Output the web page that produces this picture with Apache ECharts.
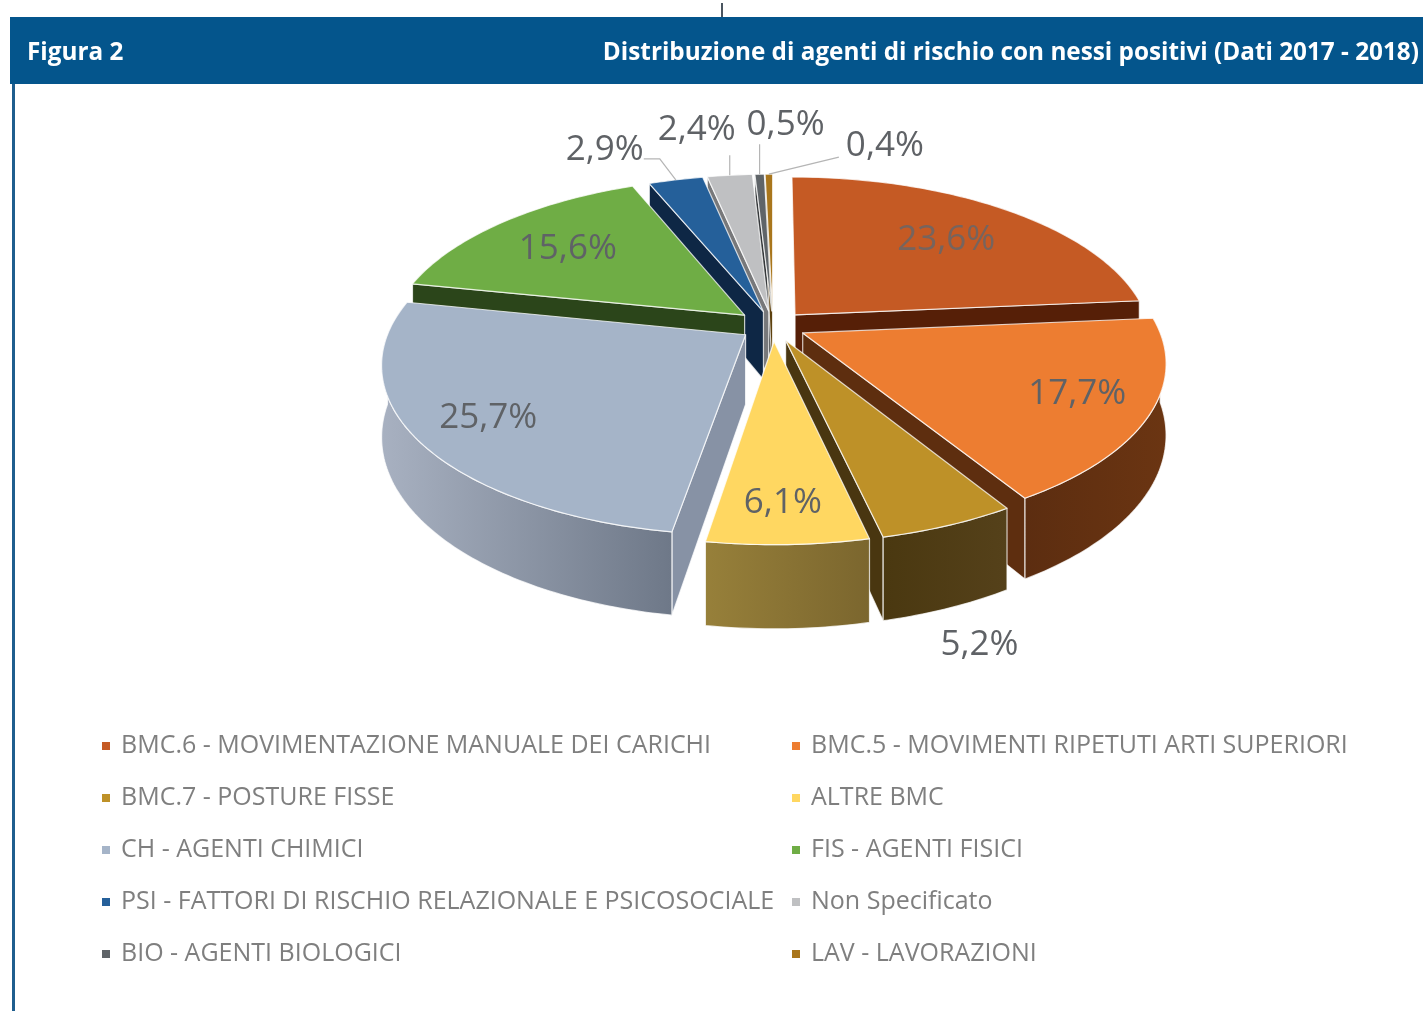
<!DOCTYPE html>
<html>
<head>
<meta charset="utf-8">
<style>html,body{margin:0;padding:0;background:#fff}#chart{width:1423px;height:1011px}</style>
<script src="https://cdn.jsdelivr.net/npm/echarts@6/dist/echarts.min.js"></script>
</head>
<body>
<div id="chart"></div>
<script>
// Agent categories and their share (%) of positive cases
const categories = [
  'BMC.6 - MOVIMENTAZIONE MANUALE DEI CARICHI',
  'BMC.5 - MOVIMENTI RIPETUTI ARTI SUPERIORI',
  'BMC.7 - POSTURE FISSE',
  'ALTRE BMC',
  'CH - AGENTI CHIMICI',
  'FIS - AGENTI FISICI',
  'PSI - FATTORI DI RISCHIO RELAZIONALE E PSICOSOCIALE',
  'Non Specificato',
  'BIO - AGENTI BIOLOGICI',
  'LAV - LAVORAZIONI'
];
const shares = [23.6, 17.7, 5.2, 6.1, 25.7, 15.6, 2.9, 2.4, 0.5, 0.4];
const shareLabels = ['23,6%', '17,7%', '5,2%', '6,1%', '25,7%', '15,6%', '2,9%', '2,4%', '0,5%', '0,4%'];
const figureTitle = 'Figura 2';
const chartTitle = 'Distribuzione di agenti di rischio con nessi positivi (Dati 2017 - 2018)';

// Face colours per slice
const topColors = ['#C55A24', '#ED7D31', '#BE9128', '#FFD761', '#A5B4C8', '#6FAD45', '#25609A', '#BFC0C2', '#5F6468', '#A9761C'];
const cutColors = ['#561F07', '#5E2E0F', '#493610', '#7D672B', '#8792A5', '#2B451A', '#0E2745', '#77787A', '#35383A', '#5C400E'];
const wallColors = [
  ['#561F07', '#561F07'], ['#5C2D10', '#6B3512'], ['#4A3810', '#55411A'], ['#97803A', '#7B662E'],
  ['#A8B1C1', '#6E7888'], ['#2B451A', '#2B451A'], ['#0E2745', '#0E2745'], ['#77787A', '#77787A'],
  ['#35383A', '#35383A'], ['#5C400E', '#5C400E']
];
const legendLeft = [0, 2, 4, 6, 8];
const legendRight = [1, 3, 5, 7, 9];

// Projection of the tilted disc onto the screen, with mild perspective
const view = { cx: 773, cy: 326, rx: 355, ry: 164, persp: 0.165, depth: 69 };
const explodes = [0.093, 0.093, 0.093, 0.093, 0.093, 0.105, 0.093, 0.093, 0.093, 0.093];
const total = shares.reduce((a, b) => a + b, 0);
const DEG = Math.PI / 180;

function project(u, v, lift) {
  const s = 1 / (1 - view.persp * v);
  return [view.cx + view.rx * u * s, view.cy + view.ry * v * s + (lift || 0) * s];
}
function sliceAngles(i) {
  let before = 0;
  for (let k = 0; k < i; k++) before += shares[k];
  const a0 = before / total * 360;
  const a1 = (before + shares[i]) / total * 360;
  return [a0, a1, (a0 + a1) / 2];
}
function dir(a) { return [Math.sin(a * DEG), -Math.cos(a * DEG)]; }

// Label placement: inside labels sit on a radius, outer ones off the rim with a leader
const labelSpots = [
  { k: 0.69, dx: 2, dy: 1 }, { k: 0.80, dx: 1, dy: -2 }, { k: 1, dx: 31, dy: 120 }, { k: 0.81, dx: -2, dy: 3 }, { k: 0.80, dy: 1 }, { k: 0.71, dy: 2 },
  { k: 1, dx: -71, dy: -30, leader: [[-16, -21], [-32, -21]] },
  { k: 1, dx: -33, dy: -45, leader: [[0, -20]] },
  { k: 1, dx: 26, dy: -49, leader: [[0, -30]] },
  { k: 1, dx: 116, dy: -28, leader: [[70, -17]] }
];

function renderSlice(i, api) {
  const [a0, a1, mid] = sliceAngles(i);
  const m = dir(mid);
  const ex = explodes[i];
  const ox = m[0] * ex, oy = m[1] * ex;
  const pt = (a, r, lift) => { const d = dir(a); return project(d[0] * r + ox, d[1] * r + oy, lift); };
  const order = Math.round((m[1] + 1.2) * 100) * 10;
  const kids = [];
  const apex = pt(0, 0), apexLow = pt(0, 0, view.depth);
  const edge = { stroke: 'rgba(255,255,255,0.75)', lineWidth: 1.2, lineJoin: 'round' };

  // Cut faces turned towards the viewer
  if (Math.sin(a0 * DEG) < 0) {
    kids.push({ type: 'polygon', z2: order, shape: { points: [apex, pt(a0, 1), pt(a0, 1, view.depth), apexLow] },
      style: { fill: cutColors[i], ...edge } });
  }
  if (Math.sin(a1 * DEG) > 0) {
    kids.push({ type: 'polygon', z2: order + 1, shape: { points: [apex, pt(a1, 1), pt(a1, 1, view.depth), apexLow] },
      style: { fill: cutColors[i], ...edge } });
  }

  // Outer wall, only the part on the near half of the rim
  const w0 = Math.max(a0, 90), w1 = Math.min(a1, 270);
  if (w1 > w0) {
    const upper = [], lower = [];
    for (let a = w0; a < w1; a += 1) { upper.push(pt(a, 1)); lower.unshift(pt(a, 1, view.depth)); }
    upper.push(pt(w1, 1)); lower.unshift(pt(w1, 1, view.depth));
    kids.push({ type: 'polygon', z2: order + 2, shape: { points: upper.concat(lower) },
      style: { ...edge,
        fill: new echarts.graphic.LinearGradient(0, 0, 1, 0, [
          { offset: 0, color: wallColors[i][0] }, { offset: 1, color: wallColors[i][1] }
        ]) } });
  }

  // Top face
  const rim = [apex];
  for (let a = a0; a < a1; a += 1) rim.push(pt(a, 1));
  rim.push(pt(a1, 1));
  kids.push({ type: 'polygon', z2: order + 3, shape: { points: rim }, style: { fill: topColors[i], ...edge } });

  // Value label, with its leader when it sits outside the disc
  const spot = labelSpots[i];
  const base = project(m[0] * (spot.k + ex), m[1] * (spot.k + ex));
  const labelPos = [base[0] + (spot.dx || 0), base[1] + (spot.dy || 0)];
  if (spot.leader) {
    const start = pt(mid, 1);
    const line = [start].concat(spot.leader.map(o => [start[0] + o[0], start[1] + o[1]]));
    kids.push({ type: 'polyline', z2: 8000, shape: { points: line }, style: { fill: null, stroke: '#b5b5b5', lineWidth: 1.2 } });
  }
  kids.push({ type: 'text', z2: 9000, style: {
    x: labelPos[0], y: labelPos[1], text: shareLabels[i],
    font: '35px "Open Sans", sans-serif', fill: i === 0 ? '#76645E' : '#5f6266',
    textAlign: 'center', textVerticalAlign: 'middle' } });
  return { type: 'group', children: kids };
}

const legendCommon = {
  orient: 'vertical', icon: 'rect', itemWidth: 8, itemHeight: 8, itemGap: 18, top: 724,
  selectedMode: false,
  textStyle: { fontFamily: '"Open Sans", sans-serif', fontSize: 25, color: '#7f7f7f', padding: [0, 0, 0, 6], lineHeight: 34, height: 34 }
};
const headerText = { color: '#fff', fontFamily: '"Open Sans", sans-serif', fontWeight: 700, fontSize: 24.3 };

const chart = echarts.init(document.getElementById('chart'), null, { renderer: 'canvas' });
chart.setOption({
  animation: false,
  backgroundColor: '#ffffff',
  title: [
    { text: figureTitle, left: 27, top: 41, padding: 0, textStyle: headerText },
    { text: chartTitle, right: 4, top: 41, padding: 0, textStyle: headerText }
  ],
  graphic: [
    { type: 'rect', shape: { x: 10, y: 17, width: 1413, height: 67 }, style: { fill: '#04558C' }, z: 0 },
    { type: 'rect', shape: { x: 12, y: 84, width: 3, height: 927 }, style: { fill: '#1F5E8E' }, z: 0 },
    { type: 'rect', shape: { x: 721, y: 3, width: 2, height: 14 }, style: { fill: '#4a5560' }, z: 0 }
  ],
  legend: [
    { ...legendCommon, left: 97, data: legendLeft.map(i => categories[i]) },
    { ...legendCommon, left: 787, data: legendRight.map(i => categories[i]) }
  ],
  series: categories.map((name, i) => ({
    type: 'custom',
    name,
    coordinateSystem: 'none',
    itemStyle: { color: topColors[i] },
    data: [shares[i]],
    renderItem: (params, api) => renderSlice(i, api)
  }))
});
</script>
</body>
</html>
